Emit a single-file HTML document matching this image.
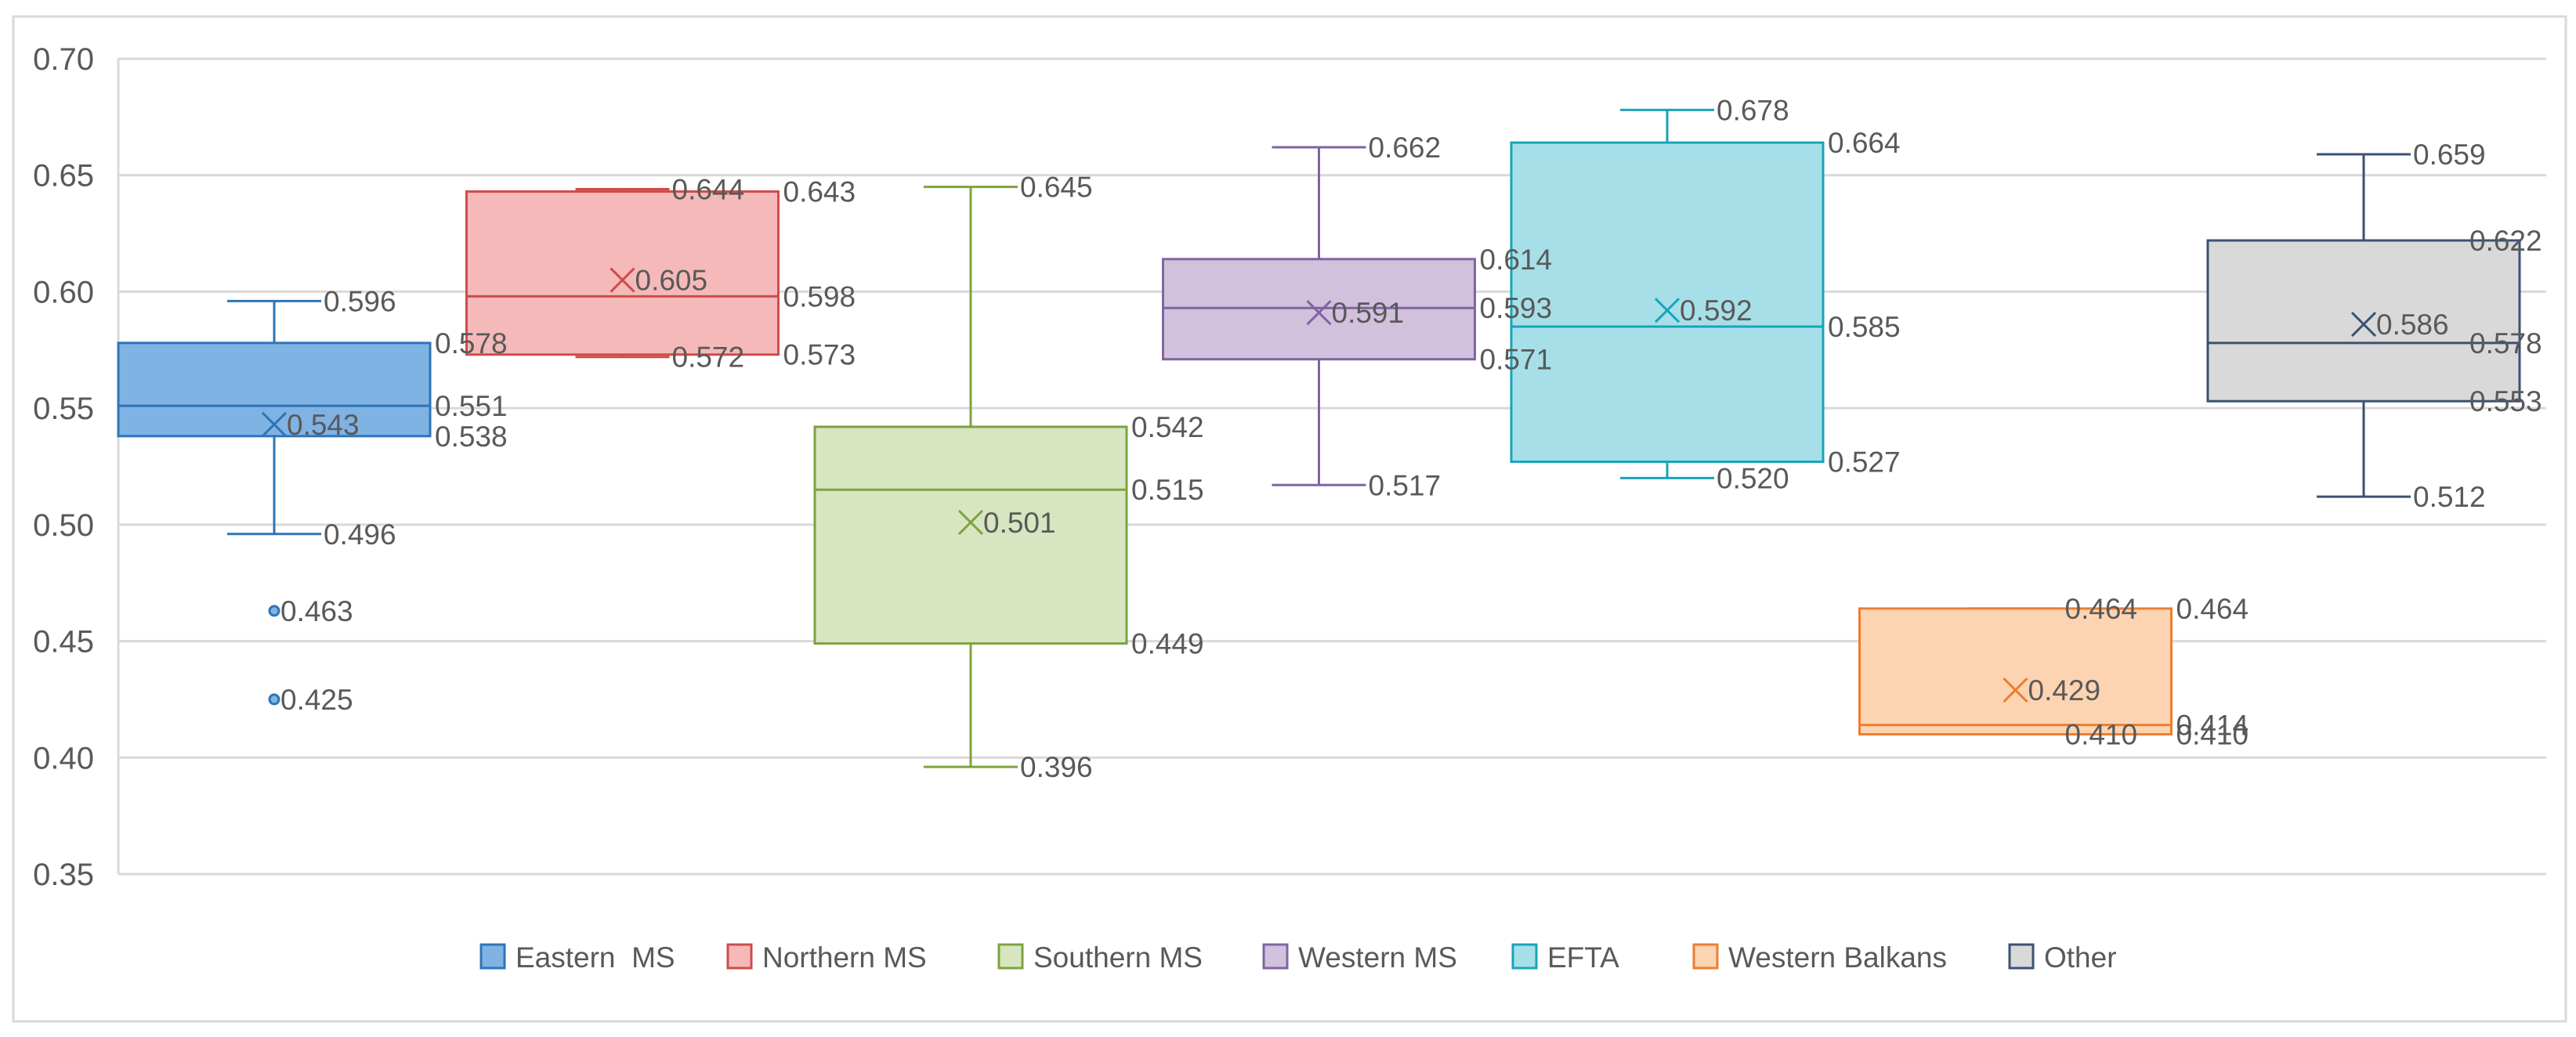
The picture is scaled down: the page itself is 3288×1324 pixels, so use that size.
<!DOCTYPE html>
<html><head><meta charset="utf-8"><style>
html,body{margin:0;padding:0;background:#fff;}
svg{display:block;font-family:"Liberation Sans",sans-serif;}
text{white-space:pre;}
</style></head><body>
<svg id="chart" width="3288" height="1324" viewBox="0 0 3288 1324">
<rect x="17" y="21" width="3258" height="1283" fill="#fff" stroke="#d9d9d9" stroke-width="3"/>
<g id="grid"></g><g id="yaxis"></g><g id="boxes"></g><g id="labels"></g><g id="legend"></g>
</svg>
<script>
const seriesNames=["Eastern  MS","Northern MS","Southern MS","Western MS","EFTA","Western Balkans","Other"];
const mins=[0.496,0.572,0.396,0.517,0.520,0.410,0.512];
const q1s=[0.538,0.573,0.449,0.571,0.527,0.410,0.553];
const medians=[0.551,0.598,0.515,0.593,0.585,0.414,0.578];
const q3s=[0.578,0.643,0.542,0.614,0.664,0.464,0.622];
const maxs=[0.596,0.644,0.645,0.662,0.678,0.464,0.659];
const means=[0.543,0.605,0.501,0.591,0.592,0.429,0.586];
const outliers=[[0.463,0.425],[],[],[],[],[],[]];
const yTicks=[0.35,0.40,0.45,0.50,0.55,0.60,0.65,0.70];

const fills=["#7fb3e4","#f5b9b9","#d7e6c0","#d1c1dd","#a7dfe8","#fdd4b2","#d9d9d9"];
const strokes=["#2e75b6","#d04b4b","#7ea33f","#8064a2","#17a5ba","#ed7d31","#3a5272"];
const NS="http://www.w3.org/2000/svg";
const L=151,R=3250,T=75,B=1116,yMin=0.35,yMax=0.70;
const y=v=>B-(v-yMin)/(yMax-yMin)*(B-T);
const cx=i=>350+444.5*i;
const BW=398,CAP=60,LW=98;
function mk(tag,attrs,parent,text){const e=document.createElementNS(NS,tag);for(const k in attrs)e.setAttribute(k,attrs[k]);if(text!==undefined)e.textContent=text;parent.appendChild(e);return e;}
const grid=document.getElementById('grid'),ya=document.getElementById('yaxis'),bx=document.getElementById('boxes'),lb=document.getElementById('labels'),lg=document.getElementById('legend');
mk('line',{x1:L,y1:T,x2:L,y2:B,stroke:'#d9d9d9','stroke-width':3},grid);
yTicks.forEach(t=>{
  const g=mk('line',{x1:L,y1:y(t),x2:R,y2:y(t),stroke:'#d9d9d9','stroke-width':3},grid);
  
  
  const tx=mk('text',{x:120,y:y(t)+14,'text-anchor':'end','font-size':40,fill:'#595959'},ya,t.toFixed(2));
  
  
});
function lab(x,v){x=Math.min(x,R-LW);const t=mk('text',{x:x,y:y(v)+13,'font-size':37,fill:'#595959'},lb,v.toFixed(3));}
seriesNames.forEach((n,i)=>{
  const g=mk('g',{},bx);
  
  
  const c=cx(i),s=strokes[i],x0=c-BW/2,x1=c+BW/2;
  mk('line',{x1:c,y1:y(maxs[i]),x2:c,y2:y(q3s[i]),stroke:s,'stroke-width':3},g);
  mk('line',{x1:c,y1:y(q1s[i]),x2:c,y2:y(mins[i]),stroke:s,'stroke-width':3},g);
  mk('line',{x1:c-CAP,y1:y(maxs[i]),x2:c+CAP,y2:y(maxs[i]),stroke:s,'stroke-width':3},g);
  mk('line',{x1:c-CAP,y1:y(mins[i]),x2:c+CAP,y2:y(mins[i]),stroke:s,'stroke-width':3},g);
  mk('rect',{x:x0,y:y(q3s[i]),width:BW,height:Math.max(1,y(q1s[i])-y(q3s[i])),fill:fills[i],stroke:s,'stroke-width':3},g);
  mk('line',{x1:x0,y1:y(medians[i]),x2:x1,y2:y(medians[i]),stroke:s,'stroke-width':3},g);
  const my=y(means[i]);
  mk('path',{d:`M${c-15} ${my-15}L${c+15} ${my+15}M${c+15} ${my-15}L${c-15} ${my+15}`,stroke:s,'stroke-width':3,fill:'none'},g);
  outliers[i].forEach(o=>{mk('circle',{cx:c,cy:y(o),r:6,fill:fills[i],stroke:s,'stroke-width':3},g);lab(c+8,o);});
  lab(c+CAP+3,maxs[i]);lab(c+CAP+3,mins[i]);
  lab(x1+6,q3s[i]);lab(x1+6,medians[i]);lab(x1+6,q1s[i]);
  lab(c+16,means[i]);
});
const legX=[614,929,1275,1613,1931,2162,2565];
seriesNames.forEach((n,i)=>{
  const g=mk('g',{},lg);
  
  
  mk('rect',{x:legX[i],y:1206,width:30,height:30,fill:fills[i],stroke:strokes[i],'stroke-width':3},g);
  mk('text',{x:legX[i]+44,y:1235,'font-size':37,fill:'#595959'},g,n);
});
</script>
</body></html>
